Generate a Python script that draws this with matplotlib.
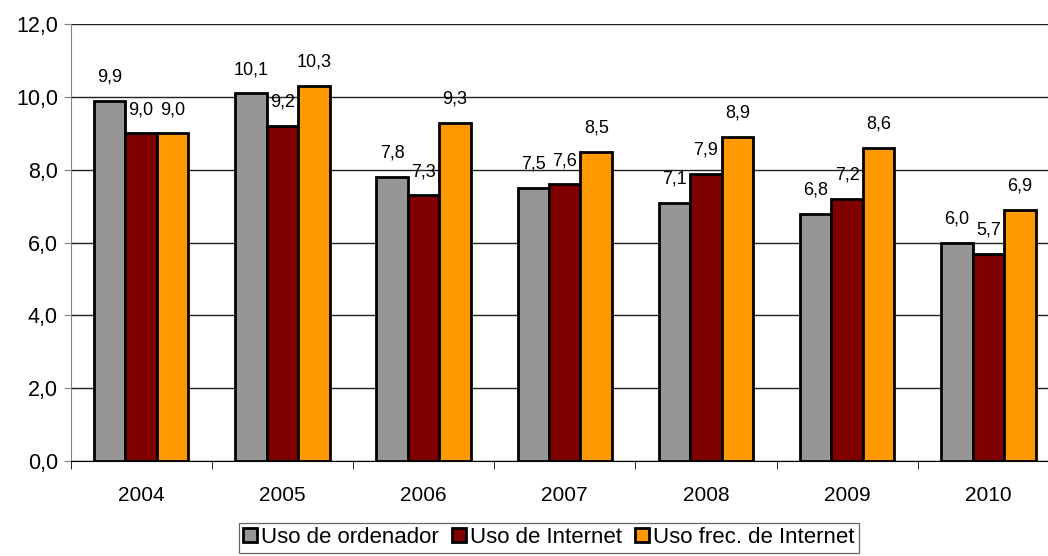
import numpy as np
import matplotlib.pyplot as plt
from matplotlib.patches import Patch

years = ['2004', '2005', '2006', '2007', '2008', '2009', '2010']
ordenador = [9.9, 10.1, 7.8, 7.5, 7.1, 6.8, 6.0]
internet = [9.0, 9.2, 7.3, 7.6, 7.9, 7.2, 5.7]
frec_internet = [9.0, 10.3, 9.3, 8.5, 8.9, 8.6, 6.9]

series = [ordenador, internet, frec_internet]
names = ['Uso de ordenador', 'Uso de Internet', 'Uso frec. de Internet']
colors = ['#969696', '#800000', '#ff9900']

plt.rcParams['font.family'] = ['Liberation Sans', 'DejaVu Sans']

fig = plt.figure(figsize=(10.48, 5.56), dpi=100)
# plot area runs a bit past the right edge of the picture, as in the original
ax = fig.add_axes([70.5 / 1048, 1 - 461 / 556, (1059 - 70.5) / 1048, (461 - 24.3) / 556])

x = np.arange(len(years))
w = 0.223
for i, (vals, c) in enumerate(zip(series, colors)):
    pos = x + (i - 1) * w
    ax.bar(pos, vals, width=w, color=c, edgecolor='black', linewidth=2, zorder=3)
    for p, v in zip(pos, vals):
        ax.annotate(f'{v:.1f}'.replace('.', ','), (p, v), xytext=(0, 11),
                    textcoords='offset points', ha='center', va='bottom', fontsize=13)

ax.set_xlim(-0.5, len(years) - 0.5)
ax.set_ylim(0, 12)
ticks = np.arange(0, 12.1, 2)
ax.set_yticks(ticks)
ax.set_yticklabels([f'{t:.1f}'.replace('.', ',') for t in ticks], fontsize=15.5)
ax.yaxis.grid(True, color='#202020', linewidth=1, zorder=0)
ax.set_xticks(x)
ax.set_xticklabels(years, fontsize=15)
ax.set_xticks(np.arange(-0.5, len(years)), minor=True)
ax.tick_params(axis='x', which='major', length=0, pad=18)
ax.tick_params(axis='x', which='minor', length=6, color='black')
ax.tick_params(axis='y', length=5, color='gray', pad=4)

ax.spines['top'].set_visible(False)
ax.spines['right'].set_visible(False)
ax.spines['left'].set_color('gray')
ax.spines['bottom'].set_color('black')

handles = [Patch(facecolor=c, edgecolor='black', linewidth=2) for c in colors]
leg = fig.legend(handles, names, loc='lower center', bbox_to_anchor=(549 / 1048, 0.0),
                 ncol=3, fontsize=16, frameon=True, fancybox=False, edgecolor='#404040',
                 handlelength=0.6, handleheight=0.6, handletextpad=0.2, columnspacing=0.6,
                 borderpad=0.2, borderaxespad=0.15)
leg.get_frame().set_linewidth(0.9)

fig.savefig('out.png', dpi=100)
